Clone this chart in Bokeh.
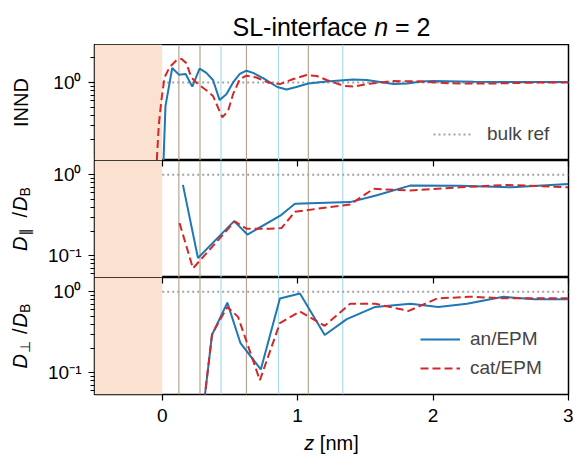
import math
from bokeh.plotting import figure
from bokeh.layouts import column, row
from bokeh.models import (Range1d, FixedTicker, CustomJSTickFormatter, LinearAxis, Label, Span,
                          BoxAnnotation, Legend, LegendItem)
from bokeh.embed import file_html
from bokeh.resources import INLINE

# ---------------- data ----------------
# INND (top panel)
z_an_innd = [0.0, 0.024, 0.074, 0.123, 0.173, 0.222, 0.276, 0.326, 0.375, 0.424, 0.474, 0.523,
             0.573, 0.622, 0.671, 0.745, 0.795, 0.85, 0.918, 0.99, 1.079, 1.215, 1.41, 1.51,
             1.61, 1.708, 1.81, 1.91, 2.0, 2.3, 2.6, 3.0]
innd_an = [0.04, 0.515, 1.5, 1.245, 1.27, 0.89, 1.476, 1.306, 1.07, 0.61, 0.72, 1.0,
           1.27, 1.39, 1.31, 1.13, 1.0, 0.88, 0.82, 0.88, 0.97, 1.03, 1.09, 1.07,
           1.01, 0.955, 0.97, 1.03, 1.04, 1.02, 1.01, 1.01]
z_cat_innd = [-0.05, -0.025, -0.007, 0.017, 0.054, 0.104, 0.141, 0.178, 0.215, 0.264, 0.326,
              0.375, 0.424, 0.444, 0.486, 0.523, 0.573, 0.622, 0.696, 0.78, 0.869, 0.968,
              1.067, 1.14, 1.215, 1.338, 1.41, 1.51, 1.61, 1.71, 1.91, 2.05, 2.2, 2.5, 2.8, 3.0]
innd_cat = [0.058, 0.306, 0.59, 1.15, 1.53, 1.85, 1.94, 1.72, 1.15, 0.955, 0.805,
            0.685, 0.447, 0.377, 0.447, 0.72, 1.1, 1.21, 1.15, 1.0, 0.955, 1.1,
            1.23, 1.2, 1.07, 0.91, 0.89, 0.955, 1.0, 1.04, 1.03, 0.99, 0.97, 0.975, 1.0, 1.0]

# D_parallel / D_B (middle panel)
z_an_par = [0.153, 0.264, 0.531, 0.629, 0.869, 0.98, 1.387, 1.585, 1.83, 2.2, 2.58, 3.0]
dpar_an = [0.75, 0.094, 0.268, 0.183, 0.31, 0.44, 0.46, 0.56, 0.735, 0.73, 0.70, 0.77]
z_cat_par = [0.128, 0.227, 0.536, 0.622, 0.795, 0.881, 0.98, 1.387, 1.56, 1.83, 2.2, 2.55, 3.0]
dpar_cat = [0.253, 0.07, 0.266, 0.216, 0.216, 0.22, 0.35, 0.43, 0.67, 0.64, 0.70, 0.75, 0.70]

# D_perp / D_B (bottom panel)
z_an_perp = [0.30, 0.368, 0.481, 0.578, 0.728, 0.869, 1.017, 1.2, 1.363, 1.573, 1.832,
             2.04, 2.25, 2.52, 2.75, 3.0]
dperp_an = [0.032, 0.295, 0.735, 0.232, 0.11, 0.825, 0.95, 0.293, 0.46, 0.65, 0.71,
            0.65, 0.71, 0.866, 0.81, 0.81]
z_cat_perp = [0.30, 0.368, 0.481, 0.56, 0.721, 0.869, 1.017, 1.2, 1.387, 1.573, 1.82,
              2.03, 2.27, 2.52, 3.0]
dperp_cat = [0.032, 0.30, 0.65, 0.49, 0.081, 0.41, 0.57, 0.38, 0.71, 0.71, 0.58,
             0.825, 0.87, 0.83, 0.83]

# bulk reference
bulk_z = [0.0, 3.0]
bulk_val = [1.0, 1.0]

# layer positions (vertical lines)
brown_lines = [0.123, 0.279, 0.622, 1.079]
blue_lines = [0.434, 0.859, 1.333]

x_ticks = [0, 1, 2, 3]
series_names = ["an/EPM", "cat/EPM"]
bulk_name = "bulk ref"

# ---------------- style / geometry ----------------
FONT = "Liberation Sans"
W = 573
LW = 40                      # width of left label strip
FL, FW, FR = 54, 474, 5      # panel borders (left border after the strip)
TOP_B, H1, H2, H3, BOT_B = 44, 116, 117, 117, 36
XL_H = 457 - TOP_B - H1 - H2 - H3 - BOT_B
X0, X1 = -0.5, 3.0
YL1 = (0.112, 2.9)
YL2 = (0.054, 1.5)
BLUE = "#1f77b4"
RED = "#d62728"
GREY = "#a3a3a3"
BROWN = "#b5a690"
LBLUE = "#a9dcf4"
SHADE = "#fbe2d0"
TICK_FS = "19px"
BASE_FIX = 8                 # baseline correction of Label text (px)

x_range = Range1d(X0, X1)

fmt = CustomJSTickFormatter(code="""
const sup = {"0":"\u2070","1":"\u00b9","2":"\u00b2","3":"\u00b3","4":"\u2074","5":"\u2075",
             "6":"\u2076","7":"\u2077","8":"\u2078","9":"\u2079","-":"\u207b"};
const e = Math.round(Math.log10(tick));
return "10" + String(e).split("").map(c => sup[c]).join("");
""")


def make_fig(h, ylim, major, minor, border_top=0, border_bottom=0, xloc=None):
    p = figure(frame_width=FW, frame_height=h, x_range=x_range, y_range=Range1d(*ylim),
               y_axis_type="log", x_axis_location=xloc, output_backend="svg",
               toolbar_location=None, min_border_left=FL, min_border_right=FR,
               min_border_top=border_top, min_border_bottom=border_bottom,
               background_fill_color="white", border_fill_color="white")
    p.grid.visible = False
    p.outline_line_color = "black"
    p.outline_line_width = 1.5
    ya = p.yaxis[0]
    ya.ticker = FixedTicker(ticks=major, minor_ticks=minor)
    ya.formatter = fmt
    ya.axis_line_color = None
    ya.major_tick_out = 6
    ya.major_tick_in = 0
    ya.minor_tick_out = 4
    ya.minor_tick_in = 0
    ya.major_tick_line_width = 1.2
    ya.minor_tick_line_width = 1.0
    ya.major_label_text_font = FONT
    ya.major_label_text_font_size = TICK_FS
    ya.major_label_text_color = "black"
    ya.major_label_standoff = 7
    p.add_layout(BoxAnnotation(right=0, fill_color=SHADE, fill_alpha=1.0, line_color=None,
                               level="underlay"))
    for v in brown_lines:
        p.add_layout(Span(location=v, dimension="height", line_color=BROWN, line_width=1.2,
                          level="underlay"))
    for v in blue_lines:
        p.add_layout(Span(location=v, dimension="height", line_color=LBLUE, line_width=1.2,
                          level="underlay"))
    return p


def style_inner_xaxis(ax):
    ax.ticker = FixedTicker(ticks=x_ticks, minor_ticks=[])
    ax.major_tick_in = 6
    ax.major_tick_out = 0
    ax.minor_tick_in = 0
    ax.minor_tick_out = 0
    ax.major_tick_line_width = 1.2
    ax.major_label_overrides = {t: "" for t in x_ticks}
    ax.major_label_text_font_size = "1px"
    ax.major_label_standoff = 0
    ax.axis_line_color = None


def text_fig(w, h):
    p = figure(frame_width=w, frame_height=h, x_range=Range1d(0, w), y_range=Range1d(h, 0),
               x_axis_location=None, y_axis_location=None, output_backend="svg",
               toolbar_location=None, min_border=0, outline_line_color=None,
               background_fill_color="white", border_fill_color="white")
    p.grid.visible = False
    return p


def add_pieces(p, pieces, sx, sy, rotated):
    """pieces: (text, size, italic, advance_px, baseline_shift_px, font); coords = px"""
    for text, size, italic, adv, shift, font in pieces:
        if rotated:
            px, py = sx + shift - BASE_FIX, sy
        else:
            px, py = sx, sy + shift - BASE_FIX
        if text:
            p.add_layout(Label(x=px, y=py, text=text,
                               angle=(math.pi / 2 if rotated else 0.0),
                               text_font=font, text_font_size=f"{size}px",
                               text_font_style=("italic" if italic else "normal"),
                               text_align="left", text_baseline="alphabetic",
                               text_color="black"))
        if rotated:
            sy -= adv
        else:
            sx += adv


# ---------------- title strip ----------------
pt = text_fig(W, TOP_B)
T = 25
title_pieces = [("SL-interface", T, False, 5.391 * T, 0, FONT),
                ("", T, False, 0.278 * T, 0, FONT),
                ("n", T, True, 0.556 * T, 0, FONT),
                ("", T, False, 0.278 * T, 0, FONT),
                ("= 2", T, False, 1.418 * T, 0, FONT)]
tw = sum(pc[3] for pc in title_pieces)
add_pieces(pt, title_pieces, LW + FL + FW / 2 - tw / 2, 34, False)

# ---------------- top panel ----------------
p1 = make_fig(H1, YL1, [1.0], [0.2, 0.3, 0.4, 0.5, 0.6, 0.7, 0.8, 0.9, 2.0], xloc=None)
r_bulk1 = p1.line(bulk_z, bulk_val, line_color=GREY, line_width=2, line_dash="2 3")
p1.line(z_an_innd, innd_an, line_color=BLUE, line_width=2)
p1.line(z_cat_innd, innd_cat, line_color=RED, line_width=2, line_dash="8 4")
leg1 = Legend(items=[LegendItem(label=bulk_name, renderers=[r_bulk1])],
              location=(339, 15), orientation="vertical",
              background_fill_alpha=0, border_line_color=None, padding=0, margin=0,
              glyph_width=40, glyph_height=22, label_height=22, label_standoff=14,
              label_text_font=FONT, label_text_font_size=TICK_FS, spacing=7)
p1.add_layout(leg1)

# ---------------- middle panel ----------------
p2 = make_fig(H2, YL2, [0.1, 1.0],
              [0.06, 0.07, 0.08, 0.09, 0.2, 0.3, 0.4, 0.5, 0.6, 0.7, 0.8, 0.9],
              xloc="above")
style_inner_xaxis(p2.above[0])
p2.line(bulk_z, bulk_val, line_color=GREY, line_width=2, line_dash="2 3")
p2.line(z_an_par, dpar_an, line_color=BLUE, line_width=2)
p2.line(z_cat_par, dpar_cat, line_color=RED, line_width=2, line_dash="8 4")

# ---------------- bottom panel ----------------
p3 = make_fig(H3, YL2, [0.1, 1.0],
              [0.06, 0.07, 0.08, 0.09, 0.2, 0.3, 0.4, 0.5, 0.6, 0.7, 0.8, 0.9],
              border_bottom=BOT_B, xloc="below")
xa = p3.below[0]
top_ax = LinearAxis()
p3.add_layout(top_ax, "above")
style_inner_xaxis(top_ax)
xa.ticker = FixedTicker(ticks=x_ticks, minor_ticks=[])
xa.axis_line_color = None
xa.major_tick_out = 6
xa.major_tick_in = 0
xa.minor_tick_out = 0
xa.minor_tick_in = 0
xa.major_tick_line_width = 1.2
xa.major_label_text_font = FONT
xa.major_label_text_font_size = TICK_FS
xa.major_label_text_color = "black"
xa.major_label_standoff = 8
p3.line(bulk_z, bulk_val, line_color=GREY, line_width=2, line_dash="2 3")
r_an = p3.line(z_an_perp, dperp_an, line_color=BLUE, line_width=2)
r_cat = p3.line(z_cat_perp, dperp_cat, line_color=RED, line_width=2, line_dash="8 4")
leg3 = Legend(items=[LegendItem(label=series_names[0], renderers=[r_an]),
                     LegendItem(label=series_names[1], renderers=[r_cat])],
              location=(326, 15), orientation="vertical",
              background_fill_alpha=0, border_line_color=None, padding=0, margin=0,
              glyph_width=40, glyph_height=22, label_height=22, label_standoff=10,
              label_text_font=FONT, label_text_font_size=TICK_FS, spacing=7)
p3.add_layout(leg3)

# ---------------- left label strip ----------------
pl = text_fig(LW, H1 + H2 + H3 + BOT_B)
L = 20
S = 14
pl.add_layout(Label(x=28.5 - BASE_FIX, y=H1 / 2, text="INND", angle=math.pi / 2,
                    text_font=FONT, text_font_size=f"{L}px", text_align="center",
                    text_baseline="alphabetic", text_color="black"))
mid_pieces = [("D", L, True, 0.722 * L + 1, 0, FONT),
              ("\u2225", S, False, 7 + 11, 5, "DejaVu Sans"),
              ("/", L, False, 0.278 * L + 1, 0, FONT),
              ("D", L, True, 0.722 * L, 0, FONT),
              ("B", S, False, 0.667 * S, 5, FONT)]
mw = sum(pc[3] for pc in mid_pieces)
add_pieces(pl, mid_pieces, 27, H1 + H2 / 2 + mw / 2, True)
bot_pieces = [("D", L, True, 0.722 * L + 1, 0, FONT),
              ("\u22a5", S, False, 10 + 9, 5, "DejaVu Sans"),
              ("/", L, False, 0.278 * L + 1, 0, FONT),
              ("D", L, True, 0.722 * L, 0, FONT),
              ("B", S, False, 0.667 * S, 5, FONT)]
bw = sum(pc[3] for pc in bot_pieces)
add_pieces(pl, bot_pieces, 27, H1 + H2 + H3 / 2 + bw / 2, True)

# ---------------- x label strip ----------------
px_ = text_fig(W, XL_H)
z_pieces = [("z", L, True, 0.5 * L, 0, FONT),
            ("", L, False, 0.278 * L, 0, FONT),
            ("[nm]", L, False, 1.945 * L, 0, FONT)]
zw = sum(pc[3] for pc in z_pieces)
add_pieces(px_, z_pieces, LW + FL + FW / 2 - zw / 2, 450 - (457 - XL_H), False)

layout = column(pt, row(pl, column(p1, p2, p3, spacing=0), spacing=0), px_, spacing=0)
open("out.html", "w").write(file_html(layout, INLINE))
